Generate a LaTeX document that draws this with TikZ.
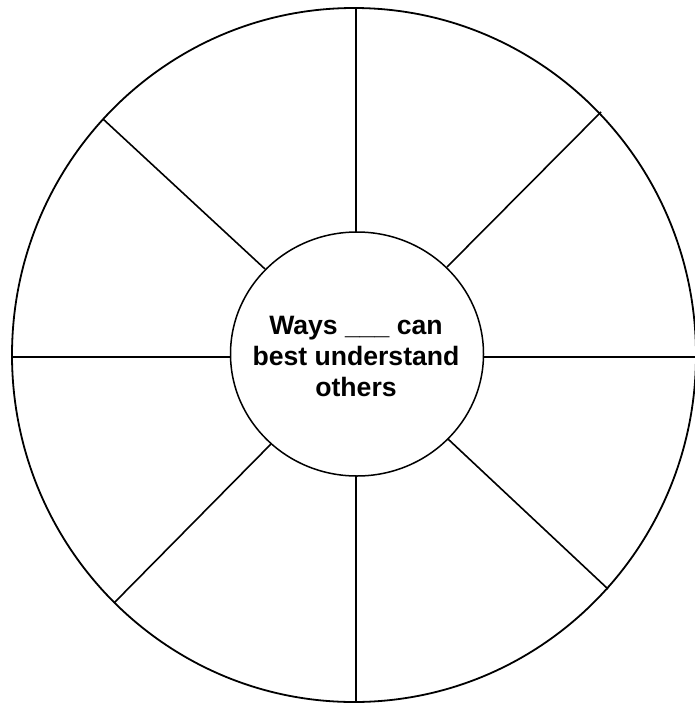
\documentclass[tikz,border=0pt]{standalone}
\usepackage{fontspec}
\setmainfont{Liberation Sans}
\usetikzlibrary{shapes.geometric}
\begin{document}
\begin{tikzpicture}[x=1pt,y=-1pt,
  rim/.style={line width=1.8pt,black},
  spoke/.style={line width=1.6pt,black},
  hub/.style={ellipse,draw,line width=1.5pt,minimum width=253pt,minimum height=244pt,inner sep=0pt,fill=white},
  hubtext/.style={font=\bfseries\fontsize{26.6}{31}\selectfont,align=center,inner sep=0pt}]
\useasboundingbox (0,0) rectangle (694,704);
\draw[rim] (354,355) ellipse [x radius=342, y radius=347];
% outer endpoints
\coordinate (oT) at (356,8);
\coordinate (oB) at (356,702);
\coordinate (oL) at (12,357);
\coordinate (oR) at (696,357);
\coordinate (oUL) at (103,119);
\coordinate (oUR) at (601,112);
\coordinate (oLL) at (114,603);
\coordinate (oLR) at (608,589);
% inner endpoints
\coordinate (iT) at (356,232);
\coordinate (iB) at (356,476);
\coordinate (iL) at (231,357);
\coordinate (iR) at (484,357);
\coordinate (iUL) at (265,269);
\coordinate (iUR) at (447,267);
\coordinate (iLL) at (271,444);
\coordinate (iLR) at (448,439);
\foreach \p in {T,B,L,R,UL,UR,LL,LR}{\draw[spoke] (o\p) -- (i\p);}
\node[hub] (c) at (357,354) {};
\node[hubtext] (t) at (356,356) {Ways \_\_\_ can\\best understand\\others};
\end{tikzpicture}
\end{document}
